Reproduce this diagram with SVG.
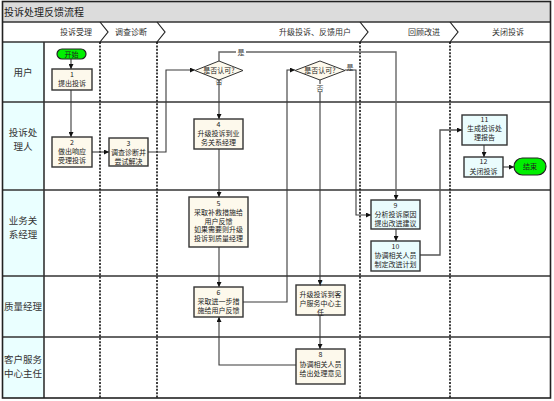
<svg xmlns="http://www.w3.org/2000/svg" width="554" height="401" viewBox="0 0 554 401">
<style>
text{font-family:"Noto Sans CJK SC","Noto Sans",sans-serif;fill:#222;text-anchor:middle}
.t{font-size:7px}
.lane{font-size:9.5px;fill:#333}
.ph{font-size:8px;fill:#333}
.box{fill:#fdf9ec;stroke:#333;stroke-width:1.4}
.cy{fill:#eafcfd;stroke:#333;stroke-width:1.4}
.term{fill:#00f000;stroke:#222;stroke-width:1.2}
.dia{fill:#fdf9ec;stroke:#333;stroke-width:1}
.c{fill:none;stroke:#3a3a3a;stroke-width:1.1}
.dot{stroke:#111;stroke-width:1.6;stroke-dasharray:2 1.4}
.sep{stroke:#333;stroke-width:1.6}
.lbl{font-size:7px;fill:#333}
</style>
<defs>
<marker id="ar" viewBox="0 0 6 6" refX="6" refY="3" markerWidth="5" markerHeight="5" orient="auto" markerUnits="userSpaceOnUse">
<path d="M0,0 L6,3 L0,6 z" fill="#111"/>
</marker>
</defs>
<rect x="0" y="0" width="554" height="401" fill="#fff"/>
<g id="frame">
<rect x="2.5" y="1.5" width="548" height="20.5" fill="#dcdcdc"/>
<text x="4" y="15.5" style="font-size:10px;text-anchor:start;fill:#222">投诉处理反馈流程</text>
<rect x="2.5" y="42" width="41.5" height="356" fill="#eaffff"/>
<line x1="44" y1="42" x2="44" y2="398" class="sep"/>
<line x1="2.5" y1="22" x2="551" y2="22" class="sep"/>
<line x1="2.5" y1="42" x2="551" y2="42" class="sep"/>
<line x1="2.5" y1="102" x2="551" y2="102" class="sep"/>
<line x1="2.5" y1="190" x2="551" y2="190" class="sep"/>
<line x1="2.5" y1="276" x2="551" y2="276" class="sep"/>
<line x1="2.5" y1="337" x2="551" y2="337" class="sep"/>
<rect x="2.5" y="1.5" width="548" height="396.5" fill="none" stroke="#222" stroke-width="1.6"/>
<path d="M100,22 L108,32 L100,42 M157,22 L165,32 L157,42 M360,22 L368,32 L360,42 M450,22 L458,32 L450,42" fill="none" stroke="#222" stroke-width="1.2"/>
<text class="ph" x="76" y="35">投诉受理</text>
<text class="ph" x="131" y="35">调查诊断</text>
<text class="ph" x="315" y="35">升级投诉、反馈用户</text>
<text class="ph" x="424" y="35">回顾改进</text>
<text class="ph" x="508" y="35">关闭投诉</text>
<line x1="100" y1="42" x2="100" y2="398" class="dot"/>
<line x1="157" y1="42" x2="157" y2="398" class="dot"/>
<line x1="360" y1="42" x2="360" y2="398" class="dot"/>
<line x1="450" y1="42" x2="450" y2="398" class="dot"/>
<text class="lane" x="23" y="76">用户</text>
<text class="lane" x="23" y="136">投诉处</text>
<text class="lane" x="23" y="150">理人</text>
<text class="lane" x="23" y="224">业务关</text>
<text class="lane" x="23" y="238">系经理</text>
<text class="lane" x="23" y="310">质量经理</text>
<text class="lane" x="23" y="363">客户服务</text>
<text class="lane" x="23" y="377">中心主任</text>
</g>
<g id="connectors">
<path class="c" d="M71,59 V69" marker-end="url(#ar)"/>
<path class="c" d="M71,90 V137" marker-end="url(#ar)"/>
<path class="c" d="M92,152 H109" marker-end="url(#ar)"/>
<path class="c" d="M148,152 H166 V70 H195" marker-end="url(#ar)"/>
<path class="c" d="M219,61 V52 H396 V200" marker-end="url(#ar)" style="stroke:#666;stroke-width:1.4"/>
<path class="c" d="M219,80 V119" marker-end="url(#ar)"/>
<path class="c" d="M219,149 V197" marker-end="url(#ar)"/>
<path class="c" d="M219,247 V287" marker-end="url(#ar)"/>
<path class="c" d="M243,302 H287 V70 H295" marker-end="url(#ar)"/>
<path class="c" d="M320,80 V285" marker-end="url(#ar)"/>
<path class="c" d="M345,70 H356 V215 H371" marker-end="url(#ar)"/>
<path class="c" d="M320,315 V349" marker-end="url(#ar)"/>
<path class="c" d="M296,365 H219 V317" marker-end="url(#ar)"/>
<path class="c" d="M396,229 V241" marker-end="url(#ar)"/>
<path class="c" d="M420,255 H440 V130 H462" marker-end="url(#ar)" style="stroke:#555;stroke-width:1.4"/>
<path class="c" d="M484,145 V157" marker-end="url(#ar)"/>
<path class="c" d="M503,167 H514" marker-end="url(#ar)"/>
<rect x="236" y="48" width="10" height="8" fill="#fff"/>
<text class="lbl" x="241" y="55">是</text>
<text class="lbl" x="219" y="84">否</text>
<text class="lbl" x="350" y="70">是</text>
<rect x="315" y="84" width="10" height="8" fill="#fff"/>
<text class="lbl" x="320" y="91">否</text>
</g>
<g id="start"><rect class="term" x="57" y="49" width="29" height="10" rx="5"/><text class="t" x="71.5" y="56.5">开始</text></g>
<g id="n1"><rect class="box" x="52" y="69" width="40" height="21"/><text class="t" x="72" y="77">1</text><text class="t" x="72" y="86">提出投诉</text></g>
<g id="n2"><rect class="box" x="52" y="137" width="40" height="30"/><text class="t" x="72" y="145">2</text><text class="t" x="72" y="154">做出响应</text><text class="t" x="72" y="163">受理投诉</text></g>
<g id="n3"><rect class="box" x="109" y="138" width="39" height="28"/><text class="t" x="128.5" y="146">3</text><text class="t" x="128.5" y="155">调查诊断并</text><text class="t" x="128.5" y="164">尝试解决</text></g>
<g id="d1"><polygon class="dia" points="195,70.5 219,61 243,70.5 219,80"/><text class="t" x="219" y="73">是否认可?</text></g>
<g id="n4"><rect class="box" x="194" y="119" width="49" height="30"/><text class="t" x="218.5" y="127">4</text><text class="t" x="218.5" y="136">升级投诉到业</text><text class="t" x="218.5" y="145">务关系经理</text></g>
<g id="n5"><rect class="box" x="189" y="197" width="59" height="50"/><text class="t" x="218.5" y="206">5</text><text class="t" x="218.5" y="215">采取补救措施给</text><text class="t" x="218.5" y="223.5">用户反馈</text><text class="t" x="218.5" y="232">如果需要则升级</text><text class="t" x="218.5" y="240.5">投诉到质量经理</text></g>
<g id="n6"><rect class="box" x="194" y="287" width="49" height="30"/><text class="t" x="218.5" y="295">6</text><text class="t" x="218.5" y="304">采取进一步措</text><text class="t" x="218.5" y="313">施给用户反馈</text></g>
<g id="d2"><polygon class="dia" points="295,70.5 320,61 345,70.5 320,80"/><text class="t" x="320" y="73">是否认可?</text></g>
<g id="n7"><rect class="box" x="296" y="285" width="49" height="30"/><text class="t" x="320.5" y="286">7</text><text class="t" x="320.5" y="297">升级投诉到客</text><text class="t" x="320.5" y="306">户服务中心主</text><text class="t" x="320.5" y="315">任</text></g>
<g id="n8"><rect class="box" x="296" y="349" width="49" height="35"/><text class="t" x="320.5" y="357">8</text><text class="t" x="320.5" y="367">协调相关人员</text><text class="t" x="320.5" y="376">给出处理意见</text></g>
<g id="n9"><rect class="cy" x="371" y="200" width="49" height="29"/><text class="t" x="395.5" y="207.5">9</text><text class="t" x="395.5" y="216.5">分析投诉原因</text><text class="t" x="395.5" y="225.5">提出改进建议</text></g>
<g id="n10"><rect class="cy" x="371" y="241" width="49" height="30"/><text class="t" x="395.5" y="248.5">10</text><text class="t" x="395.5" y="257.5">协调相关人员</text><text class="t" x="395.5" y="266.5">制定改进计划</text></g>
<g id="n11"><rect class="cy" x="462" y="115" width="45" height="30"/><text class="t" x="484.5" y="122">11</text><text class="t" x="484.5" y="131">生成投诉处</text><text class="t" x="484.5" y="140">理报告</text></g>
<g id="n12"><rect class="cy" x="464" y="157" width="39" height="20"/><text class="t" x="483.5" y="164">12</text><text class="t" x="483.5" y="173.5">关闭投诉</text></g>
<g id="end"><rect class="term" x="514" y="158" width="32" height="17" rx="8.5"/><text class="t" x="530" y="169">结束</text></g>
</svg>
